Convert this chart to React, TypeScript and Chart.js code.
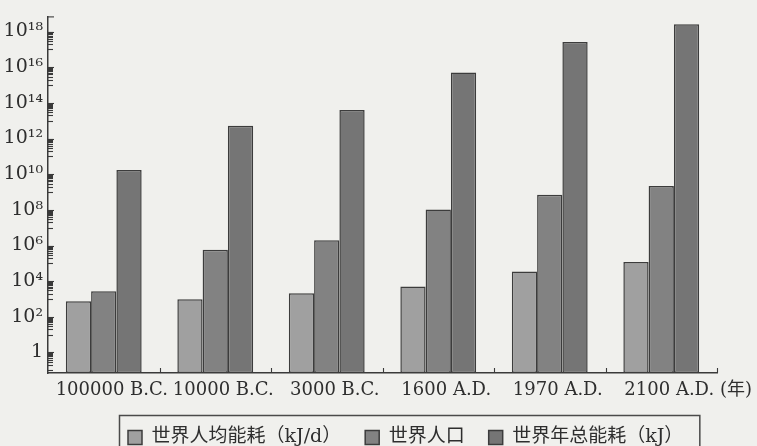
import React, { useEffect, useRef } from "react";
import { Chart, registerables } from "chart.js";

Chart.register(...registerables);

const categories = ["100000 B.C.", "10000 B.C.", "3000 B.C.", "1600 A.D.", "1970 A.D.", "2100 A.D."];
const perCapitaEnergy = [760, 980, 2100, 5100, 35000, 120000];
const population = [2750, 5.8e5, 2.0e6, 1.05e8, 7.1e8, 2.2e9];
const totalEnergy = [1.7e10, 5.2e12, 4.0e13, 5.0e15, 2.6e17, 2.6e18];
const seriesLabels = ["世界人均能耗（kJ/d）", "世界人口", "世界年总能耗（kJ）"];
const yTickValues = [1, 1e2, 1e4, 1e6, 1e8, 1e10, 1e12, 1e14, 1e16, 1e18];
const yTickLabels = ["1", "10²", "10⁴", "10⁶", "10⁸", "10¹⁰", "10¹²", "10¹⁴", "10¹⁶", "10¹⁸"];
const xUnitLabel = "(年)";
const yMin = Math.pow(10, -1.15);
const yMax = Math.pow(10, 18.85);

const BG = "#f0f0ed";
const INK = "#2e2e2e";
const SERIF = "'DejaVu Serif', 'Noto Sans CJK SC', serif";
const LEGEND_PAD = 24;
const LEGEND_START = 128;

const decorPlugin = {
  id: "decor",
  afterLayout(chart: any) {
    const lg = chart.legend;
    if (lg) {
      const w = lg.right - lg.left;
      lg.left = LEGEND_START - LEGEND_PAD;
      lg.right = lg.left + w;
    }
  },
  beforeDraw(chart: any) {
    const { ctx, width, height } = chart;
    ctx.save();
    ctx.fillStyle = BG;
    ctx.fillRect(0, 0, width, height);
    ctx.restore();
  },
  afterDraw(chart: any) {
    const { ctx, chartArea } = chart;
    const x = chart.scales.x;
    const y = chart.scales.y;
    ctx.save();
    ctx.strokeStyle = "#3a3a3a";
    ctx.lineWidth = 1.1;
    // y axis minor ticks (inside)
    for (let e = -1; e <= 19; e += 2) {
      for (let m = 1; m <= 10; m++) {
        const v = m * Math.pow(10, e);
        if (v < y.min || v > y.max) continue;
        const py = Math.round(y.getPixelForValue(v)) + 0.5;
        const len = m === 10 ? 6 : 5;
        ctx.beginPath();
        ctx.moveTo(chartArea.left, py);
        ctx.lineTo(chartArea.left + len, py);
        ctx.stroke();
      }
    }
    // top tick
    ctx.beginPath();
    ctx.moveTo(chartArea.left, chartArea.top + 0.5);
    ctx.lineTo(chartArea.left + 6, chartArea.top + 0.5);
    ctx.stroke();
    // x axis boundary ticks (inside)
    const n = categories.length;
    for (let i = 0; i < n; i++) {
      const px = i < n - 1 ? (x.getPixelForValue(i) + x.getPixelForValue(i + 1)) / 2 : x.right;
      ctx.beginPath();
      ctx.moveTo(Math.round(px) + 0.5, chartArea.bottom);
      ctx.lineTo(Math.round(px) + 0.5, chartArea.bottom - 5);
      ctx.stroke();
    }
    // unit label after x ticks
    ctx.fillStyle = INK;
    ctx.font = "18px " + SERIF;
    ctx.textAlign = "left";
    ctx.textBaseline = "middle";
    ctx.fillText(xUnitLabel, x.right + 3, x.top + 17);
    // legend frame
    const boxes = chart.legend && chart.legend.legendHitBoxes;
    if (boxes && boxes.length) {
      const first = boxes[0];
      const last = boxes[boxes.length - 1];
      const left = first.left - 9;
      const right = last.left + last.width + 16;
      const top = first.top - 13;
      ctx.strokeStyle = "#4a4a4a";
      ctx.lineWidth = 1.5;
      ctx.strokeRect(Math.round(left) + 0.5, Math.round(top) + 0.5, right - left, 60);
    }
    ctx.restore();
  },
};

export default function App() {
  const ref = useRef<HTMLCanvasElement>(null);
  useEffect(() => {
    document.body.style.margin = "0";
    document.body.style.background = BG;
    const canvas = ref.current;
    if (!canvas) return;
    const mk = (label: string, data: number[], fill: string) => ({
      label,
      data,
      backgroundColor: fill,
      borderColor: "#3c3c3c",
      borderWidth: 1.5,
      borderSkipped: false,
      barPercentage: 1,
      categoryPercentage: 0.68,
    });
    const chart = new Chart(canvas, {
      type: "bar",
      data: {
        labels: categories,
        datasets: [
          mk(seriesLabels[0], perCapitaEnergy, "#a0a0a0"),
          mk(seriesLabels[1], population, "#828282"),
          mk(seriesLabels[2], totalEnergy, "#757575"),
        ],
      },
      options: {
        responsive: false,
        animation: false,
        layout: { padding: { top: 11, right: 40, left: 0, bottom: 0 } },
        plugins: {
          title: { display: false },
          tooltip: { enabled: false },
          legend: {
            display: true,
            position: "bottom",
            align: "start",
            maxHeight: 42,
            labels: {
              boxWidth: 14,
              boxHeight: 14,
              padding: LEGEND_PAD,
              color: INK,
              font: { size: 19, family: SERIF },
            },
          },
        },
        scales: {
          x: {
            type: "category",
            offset: true,
            grid: { display: true, drawOnChartArea: false, drawTicks: false, offset: true },
            border: { display: true, color: "#3a3a3a", width: 1.5 },
            ticks: {
              padding: 7,
              labelOffset: 8,
              maxRotation: 0,
              autoSkip: false,
              color: INK,
              font: { size: 18, family: SERIF },
            },
            afterFit: (scale: any) => {
              scale.height = 31;
            },
          },
          y: {
            type: "logarithmic",
            min: yMin,
            max: yMax,
            grid: { display: true, drawOnChartArea: false, drawTicks: false },
            border: { display: true, color: "#3a3a3a", width: 1.5 },
            afterBuildTicks: (scale: any) => {
              scale.ticks = yTickValues.map((v) => ({ value: v }));
            },
            ticks: {
              padding: 5,
              autoSkip: false,
              color: INK,
              font: { size: 19, family: SERIF },
              callback: (_v: any, i: number) => yTickLabels[i],
            },
            afterFit: (scale: any) => {
              scale.width = 48;
            },
          },
        },
      },
      plugins: [decorPlugin],
    } as any);
    return () => chart.destroy();
  }, []);
  return (
    <div style={{ width: 757, height: 446 }}>
      <canvas ref={ref} width={757} height={446} />
    </div>
  );
}
